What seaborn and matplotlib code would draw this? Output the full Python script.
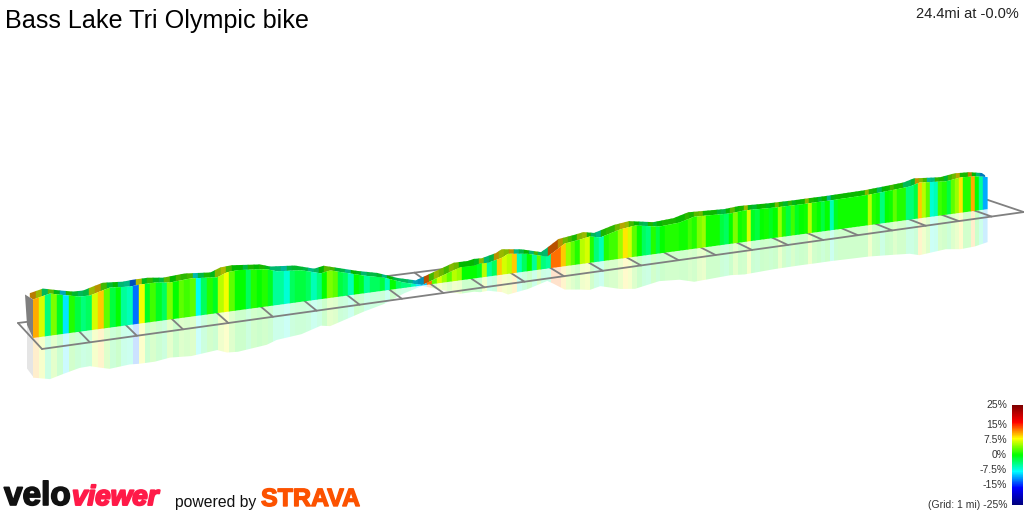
import numpy as np
import pandas as pd
import matplotlib
matplotlib.use('Agg')
import matplotlib.pyplot as plt
import matplotlib.patheffects as pe
from matplotlib.collections import PolyCollection
from matplotlib.patches import Polygon
import seaborn as sns

# Route summary
title = 'Bass Lake Tri Olympic bike'
summary = '24.4mi at -0.0%'
route_miles = 24.4
grid_miles = 25

# Elevation (miles, feet above the low point)
elev_miles = [0, 0.355, 0.67, 0.98, 1.2, 1.41, 1.62, 2.05, 2.27, 2.6, 2.93, 3.4, 3.98, 4.2, 4.45, 5.1,
              5.33, 5.9, 6.35, 6.57, 6.9, 7.37, 7.84, 8.33, 8.77, 9.7, 10.05, 10.2, 10.4, 10.75, 10.9,
              11.4, 11.9, 12.05, 12.35, 12.75, 13.0, 13.28, 13.8, 14.2, 14.85, 15.4, 15.8, 16.8, 17.2,
              18.05, 18.8, 19.2, 19.65, 20.8, 21.55, 22.0, 22.3, 23.1, 23.55, 24.0, 24.4]
elev_feet = [385, 423, 387, 355, 352, 380, 406, 391, 398, 399, 380, 395, 372, 411, 419, 390,
             355, 332, 273, 291, 249, 189, 140, 57, 5, 142, 141, 155, 151, 187, 221,
             192, 133, 170, 253, 276, 295, 270, 331, 353, 306, 322, 368, 352, 366,
             354, 352, 354, 354, 364, 385, 399, 432, 406, 431, 423, 393]

# Gradient (%) of each eighth of a mile, one row per mile
gradient = [
    11, 7, -4, 4, -1, -9, 1, -2,
    -4, -3, 7, 10, 3, -2, 0, -5,
    -6, -13, 8, -1, 2, -1, -3, 4,
    0, 3, 2, 3, -8, -3, 1, -1,
    6, 8, 3, 0, 0, -3, 1, 0,
    1, -1, -5, -5, -7, -3, -2, -2,
    -3, -6, -4, 0, 4, 3, -2, -3,
    -6, 0, -1, -5, -3, -3, -2, -6,
    0, -3, -4, -4, -6, -9, -10, 13,
    3, 7, 5, 3, 6, 5, 0, 0,
    0, -1, 6, -5, -3, 10, 7, 6,
    10, -6, -3, 0, -5, 3, -4, -5,
    13, 13, 10, 5, 3, 1, 6, 7,
    1, -4, -6, 1, 2, 2, 5, 9,
    7, 3, 0, -3, -4, 1, -2, 0,
    1, 1, 1, 0.5, 0.5, 2, 1, 4,
    5, 0.5, 0.5, 0.5, -2, -3, 0, 4,
    0.5, 1, 7, -1, -2, 0, 0.5, -1,
    0, 5, 1, -2, 2, -1, 0, 0.5,
    6, 1, 0, -2, 0, -6, -1, 0.5,
    0.5, 0.5, 0.5, 0.5, 0.5, 0.5, 6, 1,
    0.5, -4, 0, 0.5, 3, 1, 1, -4,
    -4, -2, 10, 6, 3, -7, -6, 2,
    1, -2, 3, 5, 9, 1, 1, 11,
    0, -5, -11,
]

# Colour scale
legend_ticks = [25, 15, 7.5, 0, -7.5, -15, -25]
legend_labels = ['25%', '15%', '7.5%', '0%', '-7.5%', '-15%', '(Grid: 1 mi) -25%']
scale_colors = ['#00007f', '#0000ff', '#00ffff', '#00ff00', '#ffff00', '#ff0000', '#7f0000']

W, H = 1024, 512
PERSP = 0.0093


def wall_x(m):
    m = np.asarray(m, dtype=float)
    return 33 + 48 * m / (1 + PERSP * m)


def wall_base(x):
    return 338 - 0.135 * (np.asarray(x) - 33)


def wall_height(m, feet):
    return np.asarray(feet) * 0.1 / (1 + PERSP * np.asarray(m))


def front_x(m):
    return 42 + 48.3 * m / (1 + 0.0092 * m)


def back_x(m):
    return 18 + 47.7 * m / (1 + 0.0092 * m)


def front_y(x):
    return 349 - 0.1395 * (x - 42)


def back_y(x):
    return 323 - 0.127 * (x - 18)


def stripes(ax, edges, colors, clip, zorder, alpha=None, shift=0, lw=0.3):
    # tall stripes, cut down to the outline given by clip
    polys = [[(a + shift, 100), (b + shift, 100), (b + shift, 420), (a + shift, 420)]
             for a, b in zip(edges[:-1], edges[1:])]
    ec = colors if alpha is None else 'none'
    col = PolyCollection(polys, facecolors=colors, edgecolors=ec, linewidths=lw if alpha is None else 0,
                         alpha=alpha, zorder=zorder)
    ax.add_collection(col)
    patch = Polygon(clip, closed=True, transform=ax.transData, facecolor='none', edgecolor='none')
    ax.add_patch(patch)
    col.set_clip_path(patch)


sns.set_theme(style='white')
plt.rcParams['font.family'] = ['Liberation Sans', 'DejaVu Sans']

fig = plt.figure(figsize=(W / 100, H / 100), dpi=100, facecolor='white')
ax = fig.add_axes([0, 0, 1, 1])

cmap = sns.blend_palette(scale_colors, n_colors=256, as_cmap=True)
norm = plt.Normalize(-25, 25)

# Ground grid
rows = []
seg = 0
for m in range(grid_miles + 1):
    xf, xb = front_x(m), back_x(m)
    rows += [(seg, xf, front_y(xf)), (seg, xb, back_y(xb))]
    seg += 1
for fx, fy in [(front_x, front_y), (back_x, back_y)]:
    x0, x1 = fx(0), fx(grid_miles)
    rows += [(seg, x0, fy(x0)), (seg, x1, fy(x1))]
    seg += 1
grid = pd.DataFrame(rows, columns=['seg', 'x', 'y'])
sns.lineplot(data=grid, x='x', y='y', units='seg', estimator=None, sort=False,
             color='#808080', lw=1.3, ax=ax, zorder=2)

# Wall outline
tx = wall_x(elev_miles)
base = wall_base(tx)
hgt = wall_height(elev_miles, elev_feet)
scale = 1 / (1 + PERSP * np.asarray(elev_miles))
top = base - hgt
wall_poly = list(zip(tx, top)) + list(zip(tx[::-1], base[::-1]))
mirror_poly = list(zip(tx, base + hgt * 1.03)) + list(zip(tx[::-1], base[::-1]))
rx = tx - 7 * scale
ry = top - 5 * scale
ribbon_poly = list(zip(rx, ry)) + list(zip(tx[::-1], top[::-1]))

# Stripes coloured by gradient
stations = np.arange(len(gradient) + 1) / 8
stations[-1] = route_miles
edges = wall_x(stations)
rgba = cmap(norm(np.array(gradient)))
dark = rgba.copy()
dark[:, :3] *= 0.72

stripes(ax, edges, rgba, mirror_poly, 1, alpha=0.2)
stripes(ax, edges, dark, ribbon_poly, 3, shift=-3)
stripes(ax, edges, rgba, wall_poly, 4)

# Grey end of the wall, and its reflection
x0, b0, t0 = tx[0], base[0], top[0]
ax.add_patch(Polygon([(x0 - 8, t0 - 5), (x0, t0), (x0, b0), (x0 - 6, b0 - 13)], closed=True,
                     facecolor='#7f7f7f', edgecolor='none', zorder=3.5))
ax.add_patch(Polygon([(x0 - 6, b0 - 13), (x0, b0), (x0, b0 + hgt[0]), (x0 - 6, b0 + hgt[0] - 8)], closed=True,
                     facecolor='#7f7f7f', alpha=0.2, edgecolor='none', zorder=1))

ax.set_xlim(0, W)
ax.set_ylim(H, 0)
ax.axis('off')

# Texts
ax.text(5, 28, title, fontsize=18.05, color='black', ha='left', va='baseline')
ax.text(1019, 18, summary, fontsize=10.5, color='#222222', ha='right', va='baseline')

# Logos
ax.text(4, 505, 'velo', fontsize=24, fontweight='bold', color='#111111', va='baseline',
        path_effects=[pe.withStroke(linewidth=1.2, foreground='#111111')])
ax.text(72, 505, 'viewer', fontsize=20, fontweight='bold', style='italic', color='#ff1a48', va='baseline',
        path_effects=[pe.withStroke(linewidth=1.4, foreground='#ff1a48')])
ax.text(175, 507, 'powered by', fontsize=11.3, color='#111111', va='baseline')
ax.text(261, 506, 'STRAVA', fontsize=18, fontweight='bold', color='#fc5200', va='baseline',
        path_effects=[pe.withStroke(linewidth=1.0, foreground='#fc5200')])

# Colour scale
for tick, lab in zip(legend_ticks, legend_labels):
    ax.text(1007, 455 - tick * 2, lab, fontsize=7.5, color='#333333', ha='right', va='center')

cax = fig.add_axes([1012 / W, (H - 505) / H, 11 / W, 100 / H])
bar = pd.DataFrame(np.linspace(25, -25, 100).reshape(-1, 1))
sns.heatmap(bar, ax=cax, cmap=cmap, vmin=-25, vmax=25, cbar=False, xticklabels=False, yticklabels=False)

fig.savefig('out.png', dpi=100)
